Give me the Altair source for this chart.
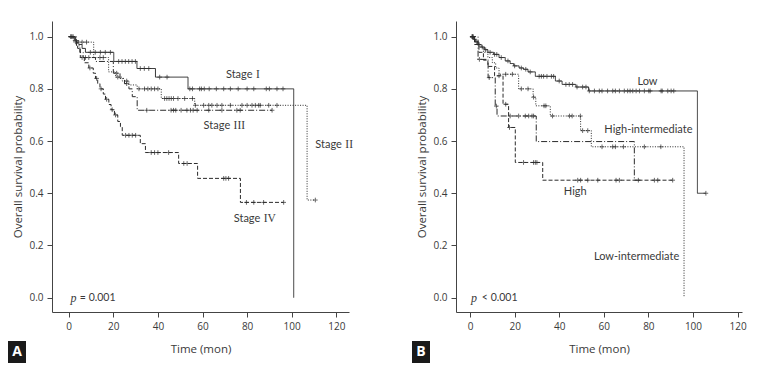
import altair as alt
import pandas as pd

# ---------------- Panel A data (Stage) ----------------
s1_t = [0, 3, 4.5, 6, 7.5, 20.2, 30.6, 38.9, 53.5, 100.9]
s1_s = [1.0, 0.985, 0.97, 0.955, 0.94, 0.905, 0.878, 0.845, 0.80, 0.0]
s1_c = [1, 2, 9.7, 11.9, 14.2, 16.4, 18.7, 22.4, 23.9, 25.4, 26.9, 28.4, 29.9, 32.1, 33.9, 35.9,
        40.8, 44.1, 54.3, 55.5, 58.7, 59.5, 60.8, 63, 66.2, 69.5, 72.5, 76, 80, 83, 88.6, 90, 93.4, 96.1]

s2_t = [0, 3.5, 11.2, 17.9, 21, 24, 27, 30.7, 41.5, 56.5, 106.9, 110.6]
s2_s = [1.0, 0.979, 0.92, 0.865, 0.845, 0.83, 0.815, 0.80, 0.763, 0.737, 0.374, 0.374]
s2_c = [1.5, 6, 8, 14, 15.5, 22, 26, 31.5, 34, 35.5, 37, 38.5, 40, 43, 44, 45, 46, 47, 49, 52, 55.5,
        56.8, 60.5, 62.8, 64.2, 66.5, 68.7, 72.5, 77.7, 80, 82.2, 83.7, 85.2, 85.9, 89.7, 93.4, 110.6]

s3_t = [0, 2, 3.5, 5, 6.5, 12, 20, 23, 25, 27, 28.5, 30.7, 91.2]
s3_s = [1.0, 0.985, 0.965, 0.94, 0.92, 0.905, 0.86, 0.84, 0.82, 0.80, 0.77, 0.718, 0.718]
s3_c = [1, 7.5, 9, 21.5, 26, 35, 45.9, 47, 48, 50.4, 53, 54.6, 55.8, 57.6, 62.8, 68.7, 75.4, 76.9, 91.2]

s4_t = [0, 2.5, 4, 5.2, 7, 9, 11, 12, 13, 14, 15.5, 16.5, 18, 19, 20.5, 22, 23.2, 24,
        32.1, 34.4, 49.3, 57.8, 77, 96.4]
s4_s = [1.0, 0.98, 0.955, 0.92, 0.90, 0.88, 0.86, 0.84, 0.82, 0.80, 0.78, 0.76, 0.74, 0.72, 0.70,
        0.675, 0.655, 0.622, 0.59, 0.556, 0.514, 0.457, 0.365, 0.365]
s4_c = [3, 6, 9.5, 12.5, 14.5, 17, 19.5, 21, 25.5, 27, 28.5, 30, 37, 38.5, 40, 44.8, 51.6, 53.1,
        69.5, 70.5, 71.7, 79.7, 83, 87.4, 96.4]

# ---------------- Panel B data (risk group) ----------------
lo_t = [0, 1.5, 2.5, 3.5, 5, 6.5, 8, 10.6, 13, 15.8, 18, 19.6, 22, 24, 26, 29.3, 38.3, 41.3,
        47.5, 53.2, 102, 105.8]
lo_s = [1.0, 0.99, 0.98, 0.97, 0.96, 0.95, 0.94, 0.932, 0.92, 0.907, 0.897, 0.888, 0.88, 0.875,
        0.865, 0.848, 0.83, 0.817, 0.807, 0.792, 0.40, 0.40]
lo_c = [1, 2, 3, 4, 5.5, 7, 9, 11, 12, 14, 17, 20, 23, 25, 27, 31, 32, 33, 34.5, 36.5, 37.5, 40,
        43, 44.5, 46, 48, 50.5, 52, 53.5, 55.8, 58, 59.2, 61.7, 64, 65.2, 67, 69.2, 70.7, 71.8,
        73, 74.5, 76, 78.2, 80.2, 80.8, 85.7, 86.2, 88.7, 90.2, 91.4, 105.8]

li_t = [0, 2, 4, 6, 8, 10, 11.5, 13, 21.8, 28.3, 29.5, 36, 49.6, 54.4, 96]
li_s = [1.0, 0.98, 0.96, 0.94, 0.92, 0.90, 0.88, 0.856, 0.80, 0.768, 0.735, 0.696, 0.64, 0.578, 0.0]
li_c = [1, 16, 19, 23, 26, 28.5, 33.2, 34, 37, 44.6, 45.8, 49.5, 50.5, 52.8, 59.2, 64, 65.2,
        68.8, 78.2, 85.6]

hi_t = [0, 3.6, 8.1, 11.3, 12.1, 29.7, 73.7, 76]
hi_s = [1.0, 0.913, 0.843, 0.734, 0.696, 0.598, 0.45, 0.45]
hi_c = [1.5, 4.2, 8.6, 11.8, 18, 21.8, 24.8, 26.3, 27.8, 28.5, 75.5]

h_t = [0, 2, 4, 6, 8, 11, 14.8, 17.3, 20.3, 32.6, 91.6]
h_s = [1.0, 0.97, 0.94, 0.91, 0.886, 0.85, 0.741, 0.652, 0.518, 0.45, 0.45]
h_c = [1, 13, 16, 17.7, 24, 28.5, 29.3, 30, 48.3, 49.6, 52.8, 57.3, 65.5, 67, 82.7, 84.2, 90.9]

# annotation texts (label, left-edge time, survival)
stage_words = ["Stage", "Stage", "Stage", "Stage"]
stage_nums = ["I", "III", "II", "IV"]
stage_t = [70.5, 60.5, 110.6, 74]
stage_s = [0.852, 0.657, 0.584, 0.301]

risk_labels = ["Low", "High-intermediate", "High", "Low-intermediate"]
risk_t = [79.6, 80, 47.2, 74.7]
risk_s = [0.826, 0.641, 0.403, 0.157]

INK = "#2b2b2b"
TXT = "#3a3a3a"


def surv_at(times, survs, t):
    v = survs[0]
    for ti, si in zip(times, survs):
        if ti <= t:
            v = si
    return v


def curve_frames(curves):
    lines, marks = [], []
    for name, times, survs, cens in curves:
        for ti, si in zip(times, survs):
            lines.append({"curve": name, "t": ti, "s": si})
        for c in cens:
            marks.append({"curve": name, "t": c, "s": surv_at(times, survs, c)})
    return pd.DataFrame(lines), pd.DataFrame(marks)


PLUS = "M-1,0L1,0M0,-1L0,1"


def panel(curves, dashes, xdom, width, label_layers, pval, letter):
    lines_df, marks_df = curve_frames(curves)
    names = [c[0] for c in curves]
    xs = alt.Scale(domain=xdom, nice=False, zero=False)
    ys = alt.Scale(domain=[-0.055, 1.06], nice=False, zero=False)
    xax = alt.Axis(values=[0, 20, 40, 60, 80, 100, 120], title="Time (mon)", titlePadding=12)
    yax = alt.Axis(values=[0, 0.2, 0.4, 0.6, 0.8, 1.0], format=".1f",
                   title="Overall survival probability", titlePadding=5)

    line = alt.Chart(lines_df).mark_line(interpolate="step-after", strokeWidth=1, color=INK).encode(
        x=alt.X("t:Q", scale=xs, axis=xax),
        y=alt.Y("s:Q", scale=ys, axis=yax),
        strokeDash=alt.StrokeDash("curve:N", scale=alt.Scale(domain=names, range=dashes), legend=None),
        detail="curve:N",
    )
    pts = alt.Chart(marks_df).mark_point(shape=PLUS, size=22, strokeWidth=1, color=INK, filled=False).encode(
        x=alt.X("t:Q", scale=xs), y=alt.Y("s:Q", scale=ys)
    )
    layers = [line, pts]
    for df, kw in label_layers:
        layers.append(alt.Chart(df).mark_text(color=TXT, **kw).encode(
            x=alt.X("t:Q", scale=xs), y=alt.Y("s:Q", scale=ys), text="text:N"))

    p_df = pd.DataFrame([{"t": pval[0], "s": 0.0, "text": "p"}])
    layers.append(alt.Chart(p_df).mark_text(font="Liberation Serif", fontStyle="italic", fontSize=12,
                                            align="left", color=TXT).encode(
        x=alt.X("t:Q", scale=xs), y=alt.Y("s:Q", scale=ys), text="text:N"))
    pv_df = pd.DataFrame([{"t": pval[1], "s": 0.0, "text": pval[2]}])
    layers.append(alt.Chart(pv_df).mark_text(font="Lato", fontSize=10.5, align="left", color=TXT).encode(
        x=alt.X("t:Q", scale=xs), y=alt.Y("s:Q", scale=ys), text="text:N"))

    layers.append(alt.Chart(pd.DataFrame([{"k": letter}])).mark_rect(color="#1a1a1a").encode(
        x=alt.value(-44), x2=alt.value(-26), y=alt.value(320), y2=alt.value(342)))
    layers.append(alt.Chart(pd.DataFrame([{"k": letter}])).mark_text(
        color="white", font="Open Sans", fontWeight="bold", fontSize=14).encode(
        x=alt.value(-35), y=alt.value(331), text="k:N"))

    return alt.layer(*layers).properties(width=width, height=291)


stage_word_df = pd.DataFrame({"text": stage_words, "t": stage_t, "s": stage_s})
stage_num_df = pd.DataFrame({"text": stage_nums, "t": stage_t, "s": stage_s})
risk_df = pd.DataFrame({"text": risk_labels, "t": risk_t, "s": risk_s})

chartA = panel(
    [("Stage I", s1_t, s1_s, s1_c), ("Stage II", s2_t, s2_s, s2_c),
     ("Stage III", s3_t, s3_s, s3_c), ("Stage IV", s4_t, s4_s, s4_c)],
    [[1, 0], [1, 1.5], [6, 2, 1, 2], [4, 2]],
    [-7.5, 125.7], 297,
    [(stage_word_df, {"font": "Lato", "fontSize": 11, "align": "left"}),
     (stage_num_df, {"font": "Liberation Serif", "fontSize": 11.5, "align": "left", "dx": 30})],
    (0.8, 5.0, "= 0.001"), "A",
)
chartB = panel(
    [("Low", lo_t, lo_s, lo_c), ("Dotted", li_t, li_s, li_c),
     ("LongDash", hi_t, hi_s, hi_c), ("High", h_t, h_s, h_c)],
    [[1, 0], [1, 1.5], [8, 3], [5, 2, 1, 2]],
    [-6.3, 122], 286,
    [(risk_df, {"font": "Lato", "fontSize": 11})],
    (0.4, 5.3, "< 0.001"), "B",
)

chart = alt.hconcat(chartA, chartB, spacing=59).properties(
    padding={"left": 0, "top": 13, "right": 0, "bottom": 0}
).configure_view(stroke=None).configure_axis(
    grid=False, domainColor="#444", tickColor="#444", domainWidth=1, tickSize=5,
    labelFont="Open Sans", labelFontSize=10, labelColor=TXT, labelPadding=4,
    titleFont="Open Sans", titleFontSize=11.5, titleFontWeight="normal", titleColor=TXT,
)

chart.save("out.html", embed_options={"renderer": "svg", "actions": False})
